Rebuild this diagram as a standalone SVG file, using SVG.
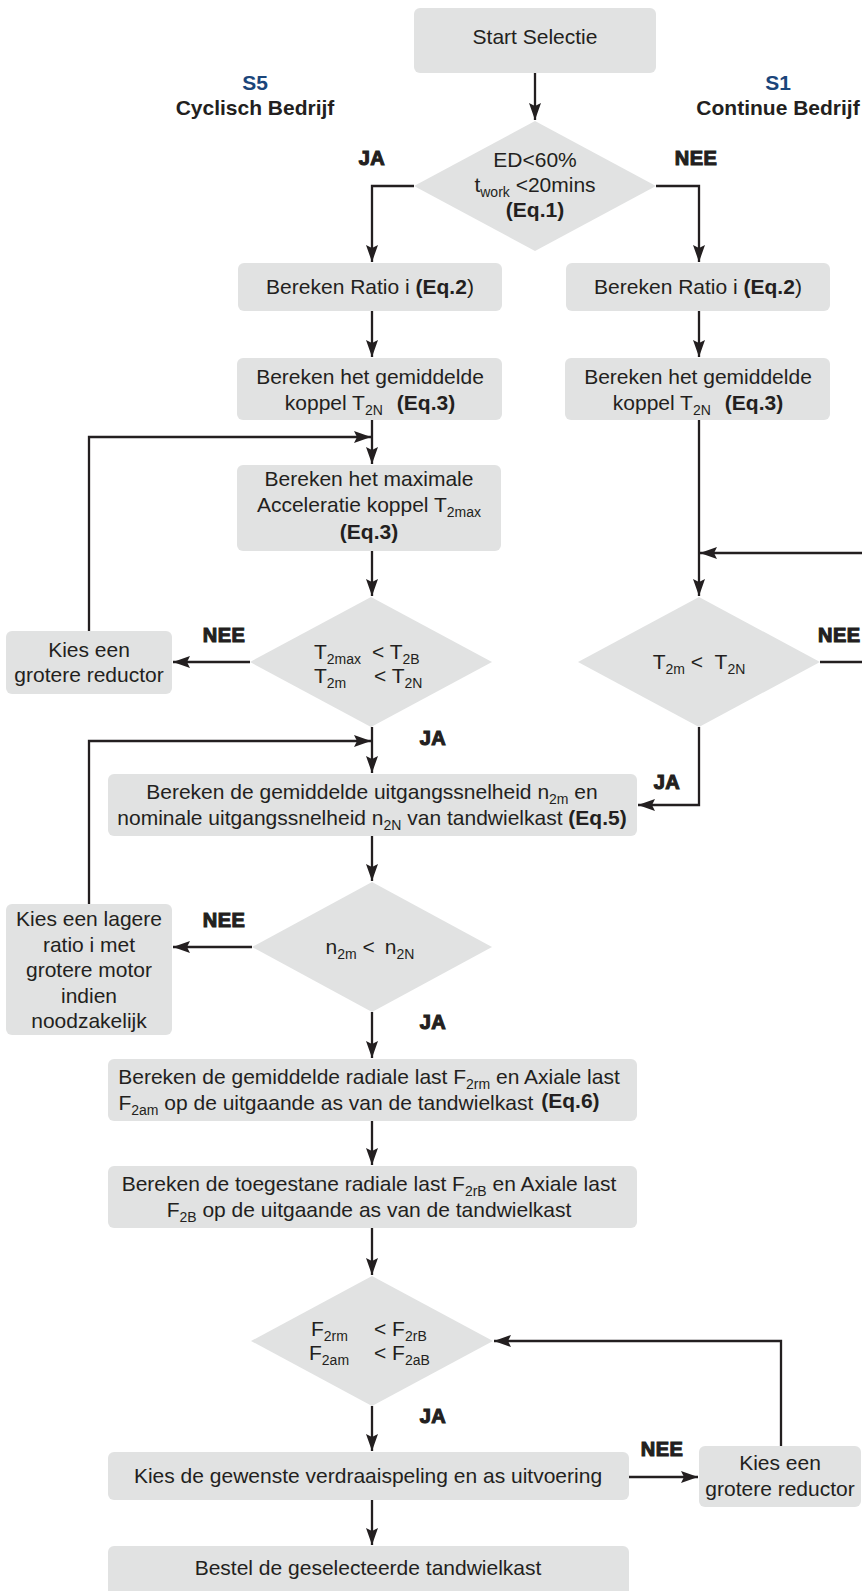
<svg xmlns="http://www.w3.org/2000/svg" width="862" height="1591" viewBox="0 0 862 1591">
<style>
text{font-family:"Liberation Sans",Arial,sans-serif;font-size:21px;fill:#231f20}
.c{text-anchor:middle}
.b{font-weight:bold}
.lab{font-weight:bold;stroke:#231f20;stroke-width:1.1;font-size:20px;letter-spacing:0.5px}
.blue{fill:#1a457a;font-weight:bold}
.sub{font-size:14px}
.box{fill:#e1e2e2}
.con path{fill:none;stroke:#231f20;stroke-width:2.3}
</style>
<defs>
<marker id="ah" markerUnits="userSpaceOnUse" markerWidth="18" markerHeight="13" refX="17" refY="6" orient="auto">
<path d="M0,0 L17,6 L0,12 L3,6 Z" fill="#231f20"/>
</marker>
</defs>

<g id="labels">
<text x="255" y="90" class="c blue">S5</text>
<text x="255" y="115" class="c b">Cyclisch Bedrijf</text>
<text x="778" y="90" class="c blue">S1</text>
<text x="778" y="115" class="c b">Continue Bedrijf</text>
<text x="372" y="165" class="c lab">JA</text>
<text x="696" y="165" class="c lab">NEE</text>
<text x="224" y="642" class="c lab">NEE</text>
<text x="433" y="745" class="c lab">JA</text>
<text x="818" y="642" class="lab">NEE</text>
<text x="667" y="789" class="c lab">JA</text>
<text x="224" y="927" class="c lab">NEE</text>
<text x="433" y="1029" class="c lab">JA</text>
<text x="433" y="1423" class="c lab">JA</text>
<text x="662" y="1456" class="c lab">NEE</text>
</g>

<g id="start">
<rect class="box" x="414" y="8" width="242" height="65" rx="6"/>
<text x="535" y="44" class="c">Start Selectie</text>
</g>

<g id="d1">
<polygon class="box" points="535,121 656,186 535,251 414,186"/>
<text x="535" y="167" class="c">ED&lt;60%</text>
<text x="535" y="192" class="c">t<tspan class="sub" dy="5">work</tspan><tspan dy="-5"> &lt;20mins</tspan></text>
<text x="535" y="217" class="c b">(Eq.1)</text>
</g>

<g id="ratioL">
<rect class="box" x="238" y="263" width="264" height="48" rx="6"/>
<text x="370" y="294" class="c">Bereken Ratio i <tspan class="b">(Eq.2</tspan>)</text>
</g>
<g id="ratioR">
<rect class="box" x="566" y="263" width="264" height="48" rx="6"/>
<text x="698" y="294" class="c">Bereken Ratio i <tspan class="b">(Eq.2</tspan>)</text>
</g>

<g id="gemL">
<rect class="box" x="237" y="358" width="265" height="62" rx="6"/>
<text x="370" y="384" class="c">Bereken het gemiddelde</text>
<text x="370" y="410" class="c">koppel T<tspan class="sub" dy="5">2N</tspan><tspan class="b" dy="-5" dx="14">(Eq.3)</tspan></text>
</g>
<g id="gemR">
<rect class="box" x="565" y="358" width="265" height="62" rx="6"/>
<text x="698" y="384" class="c">Bereken het gemiddelde</text>
<text x="698" y="410" class="c">koppel T<tspan class="sub" dy="5">2N</tspan><tspan class="b" dy="-5" dx="14">(Eq.3)</tspan></text>
</g>

<g id="max">
<rect class="box" x="237" y="465" width="264" height="86" rx="6"/>
<text x="369" y="486" class="c">Bereken het maximale</text>
<text x="369" y="512" class="c">Acceleratie koppel T<tspan class="sub" dy="5">2max</tspan></text>
<text x="369" y="539" class="c b">(Eq.3)</text>
</g>

<g id="d2">
<polygon class="box" points="371,597 492,662 371,727 250,662"/>
<text x="314" y="659">T<tspan class="sub" dy="5">2max</tspan><tspan x="372" dy="-5">&lt; T</tspan><tspan class="sub" dy="5">2B</tspan></text>
<text x="314" y="683">T<tspan class="sub" dy="5">2m</tspan><tspan x="374" dy="-5">&lt; T</tspan><tspan class="sub" dy="5">2N</tspan></text>
</g>

<g id="kies1">
<rect class="box" x="6" y="631" width="166" height="63" rx="6"/>
<text x="89" y="657" class="c">Kies een</text>
<text x="89" y="682" class="c">grotere reductor</text>
</g>

<g id="dR">
<polygon class="box" points="699,597 820,662 699,727 578,662"/>
<text x="699" y="669" class="c">T<tspan class="sub" dy="5">2m</tspan><tspan dy="-5"> &lt;  </tspan><tspan dx="6">T</tspan><tspan class="sub" dy="5">2N</tspan></text>
</g>

<g id="n2m">
<rect class="box" x="108" y="774" width="529" height="62" rx="6"/>
<text x="372" y="799" class="c">Bereken de gemiddelde uitgangssnelheid n<tspan class="sub" dy="5">2m</tspan><tspan dy="-5"> en</tspan></text>
<text x="372" y="825" class="c">nominale uitgangssnelheid n<tspan class="sub" dy="5">2N</tspan><tspan dy="-5"> van tandwielkast </tspan><tspan class="b">(Eq.5)</tspan></text>
</g>

<g id="d3">
<polygon class="box" points="372,882 492,947 372,1012 252,947"/>
<text x="370" y="954" class="c">n<tspan class="sub" dy="5">2m</tspan><tspan dy="-5"> &lt;</tspan><tspan dx="10">n</tspan><tspan class="sub" dy="5">2N</tspan></text>
</g>

<g id="kies2">
<rect class="box" x="6" y="904" width="166" height="131" rx="6"/>
<text x="89" y="926" class="c">Kies een lagere</text>
<text x="89" y="952" class="c">ratio i met</text>
<text x="89" y="977" class="c">grotere motor</text>
<text x="89" y="1003" class="c">indien</text>
<text x="89" y="1028" class="c">noodzakelijk</text>
</g>

<g id="radial">
<rect class="box" x="108" y="1059" width="529" height="62" rx="6"/>
<text x="369" y="1084" class="c">Bereken de gemiddelde radiale last F<tspan class="sub" dy="5">2rm</tspan><tspan dy="-5"> en Axiale last</tspan></text>
<text x="359" y="1110" class="c">F<tspan class="sub" dy="5">2am</tspan><tspan dy="-5"> op de uitgaande as van de tandwielkast</tspan><tspan class="b" dx="8" dy="-2">(Eq.6)</tspan></text>
</g>

<g id="toeg">
<rect class="box" x="108" y="1166" width="529" height="62" rx="6"/>
<text x="369" y="1191" class="c">Bereken de toegestane radiale last F<tspan class="sub" dy="5">2rB</tspan><tspan dy="-5"> en Axiale last</tspan></text>
<text x="369" y="1217" class="c">F<tspan class="sub" dy="5">2B</tspan><tspan dy="-5"> op de uitgaande as van de tandwielkast</tspan></text>
</g>

<g id="d4">
<polygon class="box" points="372,1276 493,1341 372,1406 251,1341"/>
<text x="311" y="1336">F<tspan class="sub" dy="5">2rm</tspan><tspan x="374" dy="-5">&lt; F</tspan><tspan class="sub" dy="5">2rB</tspan></text>
<text x="309" y="1360">F<tspan class="sub" dy="5">2am</tspan><tspan x="374" dy="-5">&lt; F</tspan><tspan class="sub" dy="5">2aB</tspan></text>
</g>

<g id="kiesg">
<rect class="box" x="108" y="1452" width="521" height="48" rx="6"/>
<text x="368" y="1483" class="c">Kies de gewenste verdraaispeling en as uitvoering</text>
</g>

<g id="kies3">
<rect class="box" x="699" y="1446" width="162" height="61" rx="6"/>
<text x="780" y="1470" class="c">Kies een</text>
<text x="780" y="1496" class="c">grotere reductor</text>
</g>

<g id="bestel">
<rect class="box" x="108" y="1546" width="521" height="60" rx="6"/>
<text x="368" y="1575" class="c">Bestel de geselecteerde tandwielkast</text>
</g>

<g id="connectors" class="con">
<path d="M535,73 V120" marker-end="url(#ah)"/>
<path d="M414,186 H372 V262" marker-end="url(#ah)"/>
<path d="M656,186 H699 V262" marker-end="url(#ah)"/>
<path d="M372,311 V357" marker-end="url(#ah)"/>
<path d="M699,311 V357" marker-end="url(#ah)"/>
<path d="M372,420 V464" marker-end="url(#ah)"/>
<path d="M89,631 V437 H371" marker-end="url(#ah)"/>
<path d="M372,551 V596" marker-end="url(#ah)"/>
<path d="M250,662 H173" marker-end="url(#ah)"/>
<path d="M372,727 V773" marker-end="url(#ah)"/>
<path d="M89,904 V741 H371" marker-end="url(#ah)"/>
<path d="M699,420 V596" marker-end="url(#ah)"/>
<path d="M862,553 H700" marker-end="url(#ah)"/>
<path d="M820,662 H862"/>
<path d="M699,727 V805 H638" marker-end="url(#ah)"/>
<path d="M372,836 V881" marker-end="url(#ah)"/>
<path d="M252,947 H173" marker-end="url(#ah)"/>
<path d="M372,1012 V1058" marker-end="url(#ah)"/>
<path d="M372,1121 V1165" marker-end="url(#ah)"/>
<path d="M372,1228 V1275" marker-end="url(#ah)"/>
<path d="M372,1406 V1451" marker-end="url(#ah)"/>
<path d="M629,1477 H698" marker-end="url(#ah)"/>
<path d="M781,1446 V1341 H494" marker-end="url(#ah)"/>
<path d="M372,1500 V1545" marker-end="url(#ah)"/>
</g>
</svg>
